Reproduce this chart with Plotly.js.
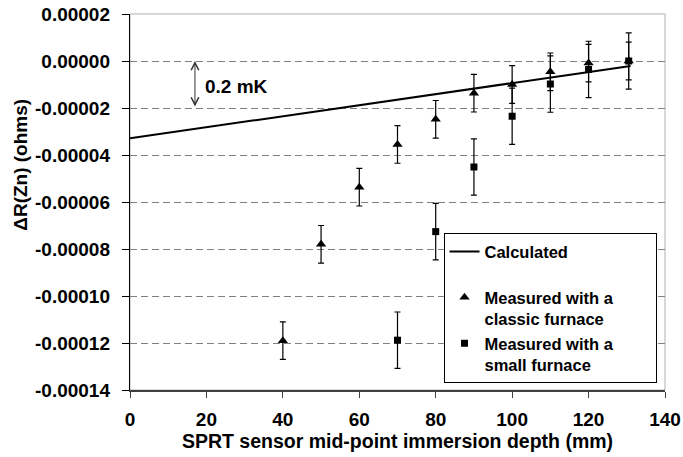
<!DOCTYPE html>
<html><head><meta charset="utf-8">
<script src="https://cdn.plot.ly/plotly-3.0.1.min.js"></script>
<style>html,body{margin:0;padding:0;background:#fff;} #chart{width:683px;height:457px;}</style>
</head><body><div id="chart"></div>
<script>
// Calculated line
const depthCalc = [0, 131];
const dRCalc = [-0.0000329, -0.0000021];
// Measured with a classic furnace
const depthClassic = [40, 50, 60, 70, 80, 90, 100, 110, 120, 130.5];
const dRClassic = [-0.0001190, -0.0000780, -0.0000537, -0.0000355, -0.0000248, -0.0000137, -0.0000100, -0.0000046, -0.0000009, 0.0000000];
const errClassic = [0.000008, 0.000008, 0.000008, 0.000008, 0.000008, 0.000008, 0.000008, 0.000008, 0.000008, 0.000008];
// Measured with a small furnace
const depthSmall = [70, 80, 90, 100, 110, 120, 130.5];
const dRSmall = [-0.0001188, -0.0000726, -0.0000451, -0.0000235, -0.0000098, -0.0000036, 0.0000000];
const errSmall = [0.000012, 0.000012, 0.000012, 0.000012, 0.000012, 0.000012, 0.000012];
// Axes
const xTickVals = [0, 20, 40, 60, 80, 100, 120, 140];
const yTickVals = [0.00002, 0, -0.00002, -0.00004, -0.00006, -0.00008, -0.00010, -0.00012, -0.00014];
const yTickText = ["0.00002", "0.00000", "-0.00002", "-0.00004", "-0.00006", "-0.00008", "-0.00010", "-0.00012", "-0.00014"];
const legendNames = ["Calculated<br> ", "Measured with a<br>classic furnace", "Measured with a<br>small furnace"];

const FONT = "Liberation Sans, Arial, Helvetica, sans-serif";
const PAD = "\u00a0".repeat(8); // widens the legend box to match the reference

const traces = [
  {
    x: depthCalc, y: dRCalc, type: 'scatter', mode: 'lines',
    name: legendNames[0], legendrank: 1,
    line: {color: '#000000', width: 2}
  },
  {
    x: depthClassic, y: dRClassic, type: 'scatter', mode: 'markers',
    name: legendNames[1].replace('<br>', PAD + '<br>'), legendrank: 2,
    marker: {symbol: 'triangle-up', size: 9, color: '#000000'},
    error_y: {type: 'data', array: errClassic, visible: true, color: '#000000', thickness: 1.2, width: 3}
  },
  {
    x: depthSmall, y: dRSmall, type: 'scatter', mode: 'markers',
    name: legendNames[2], legendrank: 3,
    marker: {symbol: 'square', size: 7, color: '#000000'},
    error_y: {type: 'data', array: errSmall, visible: true, color: '#000000', thickness: 1.2, width: 3}
  }
];

const layout = {
  width: 683, height: 457,
  margin: {l: 130, r: 17.5, t: 13.7, b: 66.5, pad: 0},
  paper_bgcolor: '#ffffff', plot_bgcolor: '#ffffff',
  font: {family: FONT, size: 19, color: '#000000', weight: 'bold'},
  showlegend: true,
  legend: {
    x: 0.586, xanchor: 'left', y: 0.018, yanchor: 'bottom',
    bgcolor: '#ffffff', bordercolor: '#000000', borderwidth: 1,
    font: {family: FONT, size: 16.5, color: '#000000', weight: 'bold'},
    valign: 'top', traceorder: 'normal'
  },
  xaxis: {
    range: [0, 140], tickvals: xTickVals, ticks: 'outside', ticklen: 6,
    tickcolor: '#404040', linecolor: '#404040', linewidth: 1.5, showline: true,
    showgrid: false, zeroline: false,
    tickfont: {family: FONT, size: 19, color: '#000000', weight: 'bold'},
    ticklabelstandoff: 6,
    title: {text: 'SPRT sensor mid-point immersion depth (mm)', standoff: 4,
            font: {family: FONT, size: 19.5, color: '#000000', weight: 'bold'}}
  },
  yaxis: {
    range: [-0.00014, 0.00002], tickvals: yTickVals, ticktext: yTickText,
    ticks: 'outside', ticklen: 7, tickcolor: '#000000', linecolor: '#000000', linewidth: 1.2,
    showline: true, zeroline: false,
    showgrid: true, gridcolor: '#808080', gridwidth: 1, griddash: '7px,4px',
    tickfont: {family: FONT, size: 19, color: '#000000', weight: 'bold'},
    ticklabelstandoff: 8
  },
  shapes: [
    {type: 'rect', xref: 'paper', yref: 'paper', x0: 0, x1: 1, y0: 0, y1: 1,
     line: {color: '#b0b0b0', width: 1}, layer: 'below'}
  ],
  annotations: [
    {xref: 'paper', yref: 'paper', x: -0.205, y: 0.6, xanchor: 'center', yanchor: 'middle',
     text: 'ΔR(Zn) (ohms)', textangle: -90, showarrow: false,
     font: {family: FONT, size: 19, color: '#000000', weight: 'bold'}},
    {xref: 'x', yref: 'y', x: 17, y: 0, axref: 'x', ayref: 'y', ax: 17, ay: -0.00002,
     text: '', showarrow: true, arrowhead: 5, startarrowhead: 5, arrowside: 'end+start',
     arrowsize: 1.5, startarrowsize: 1.5, arrowwidth: 1, arrowcolor: '#333333',
     standoff: 0, startstandoff: 0},
    {xref: 'x', yref: 'y', x: 19, y: -0.0000109, xanchor: 'left', yanchor: 'middle',
     text: '0.2 mK', showarrow: false,
     font: {family: FONT, size: 19, color: '#000000', weight: 'bold'}}
  ]
};

Plotly.newPlot('chart', traces, layout, {displayModeBar: false, staticPlot: true});
</script>
</body></html>
